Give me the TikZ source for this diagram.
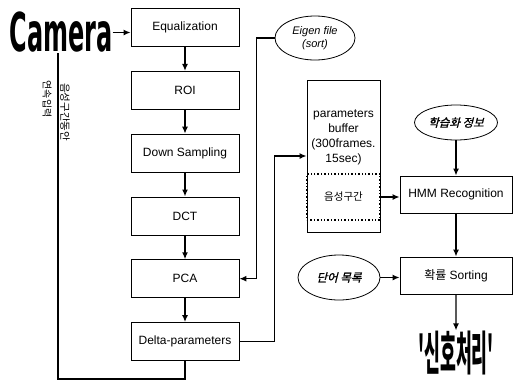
\documentclass[tikz,border=0pt]{standalone}
\usepackage{fontspec}
\setmainfont{Liberation Sans}
\newfontfamily\kor{Noto Sans CJK KR}
\newfontfamily\korit[FakeSlant=0.25,FakeBold=1.2]{Noto Sans CJK KR}
\newfontfamily\korheavy{Noto Sans CJK KR Black}
\newfontfamily\heavy{DejaVu Sans}
\usetikzlibrary{positioning}
\usetikzlibrary{shapes.geometric}
\usetikzlibrary{arrows.meta}

\begin{document}
\begin{tikzpicture}[x=1pt, y=-1pt, node distance={62.8pt}, >={Latex[length=7pt,width=6pt]},
    main/.style = {draw, line width=0.8pt, minimum width=108pt, minimum height=38pt, font=\fontsize{12}{14}\selectfont},
    oval/.style = {draw, ellipse, line width=0.8pt, inner sep=0pt},
    link/.style = {line width=1.4pt}]
            \useasboundingbox (0,0) rectangle (516,381);
            % input and feature extraction column
            \node[inner sep=0pt, xscale=0.48, yscale=1.07, font=\heavy\bfseries\fontsize{50}{50}\selectfont] (1) at (61,32.5) {Camera};
            \node[main] (2) at (185,27.5) {Equalization};
            \node[main] (3) [below of = 2] {ROI};
            \node[main] (4) [below of = 3] {Down Sampling};
            \node[main] (5) [below of = 4] {DCT};
            \node[main] (6) [below of = 5] {PCA};
            \node[main] (7) [below of = 6] {Delta-parameters};
            \node[rotate=-90, inner sep=0pt, font=\kor\fontsize{10}{10}\selectfont] (17) at (47,99) {연속입력};
            \node[rotate=-90, inner sep=0pt, font=\kor\fontsize{10.5}{10.5}\selectfont] (18) at (65,112) {음성구간동안};
            % buffer
            \node[draw, line width=0.8pt, minimum width=73pt, minimum height=152pt] (8) at (343.5,156) {};
            \node[align=center, inner sep=0pt, font=\fontsize{12}{15}\selectfont] (9) at (343.5,137) {parameters\\buffer\\(300frames.\\15sec)};
            \node[draw, dotted, line width=1.4pt, minimum width=73pt, minimum height=46pt, font=\kor\fontsize{10.5}{12}\selectfont] (10) at (343.5,197) {음성구간};
            % recognition
            \node[main, minimum width=112pt, minimum height=37pt] (11) at (456,194.5) {HMM Recognition};
            \node[main, minimum width=112pt, minimum height=37pt] (12) [below of = 11, node distance=81pt] {{\kor 확률} Sorting};
            \node[oval, minimum width=83pt, minimum height=35pt, font=\korit\fontsize{11.5}{12}\selectfont] (13) [above of = 11, node distance=72pt] {학습화 정보};
            \node[oval, minimum width=82pt, minimum height=45pt, font=\korit\fontsize{11.5}{12}\selectfont] (14) at (339,277.5) {단어 목록};
            \node[oval, minimum width=80pt, minimum height=44pt, align=center, font=\itshape\fontsize{11}{13}\selectfont] (15) at (315,38) {Eigen file\\(sort)};
            \node[inner sep=0pt, xscale=0.43, yscale=1.17, font=\korheavy\fontsize{40}{40}\selectfont] (16) [below of = 12, node distance=66pt] {'신호처리'};
            % connectors
            \draw[link, ->] (1.east) -- (1.east -| 2.west);
            \draw[link, ->] (2) -- (3);
            \draw[link, ->] (3) -- (4);
            \draw[link, ->] (4) -- (5);
            \draw[link, ->] (5) -- (6);
            \draw[link, ->] (6) -- (7);
            \draw[link] (7.south) -- ++(0,18) -| ([xshift=-3pt]1.south);
            \draw[link, ->] (15.west) -- ++(-18,0) |- (6.east);
            \draw[link, ->] (7.east) -- ++(35,0) |- (8.west);
            \draw[link, ->] (10.east) -- (10.east -| 11.west);
            \draw[link, ->] (13) -- (11);
            \draw[link, ->] (11) -- (12);
            \draw[link, ->] (14.east) -- (14.east -| 12.west);
            \draw[link, ->] (12) -- (16);
        \end{tikzpicture}
\end{document}
